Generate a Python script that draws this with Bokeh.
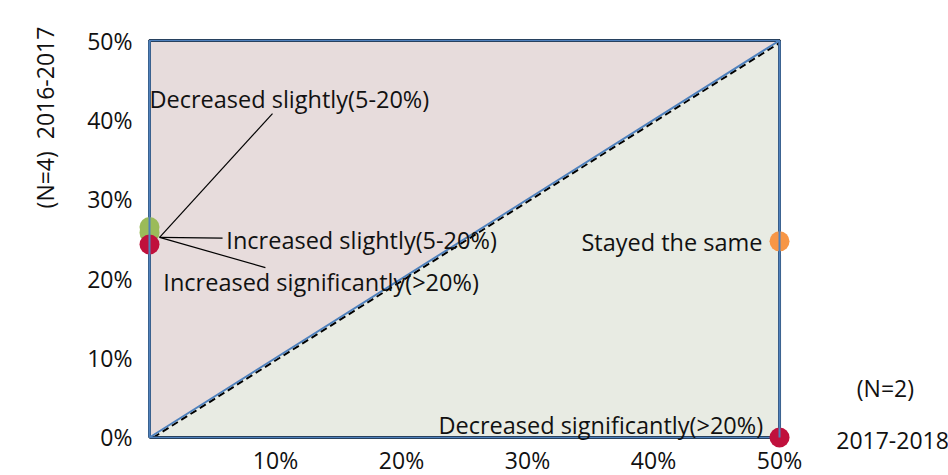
from bokeh.plotting import figure
from bokeh.models import ColumnDataSource, Label, FixedTicker, CustomJSTickFormatter
from bokeh.embed import file_html
from bokeh.resources import INLINE

# ---- data ----
categories = ["Decreased slightly(5-20%)", "Increased slightly(5-20%)",
              "Increased significantly(>20%)", "Stayed the same",
              "Decreased significantly(>20%)"]
x_2017_2018 = [0.0, 0.0, 0.0, 0.5, 0.5]          # (N=2)
y_2016_2017 = [0.265, 0.258, 0.243, 0.247, 0.0]  # (N=4)
point_colors = ["#9BBB59", "#9BBB59", "#C0103C", "#F79646", "#C0103C"]
x_ticks = [0.1, 0.2, 0.3, 0.4, 0.5]
y_ticks = [0.0, 0.1, 0.2, 0.3, 0.4, 0.5]
x_title = "2017-2018"
x_note = "(N=2)"
y_title = "(N=4)  2016-2017"
lo, hi = 0.0, 0.5

FONT = "Open Sans"
FS_LAB = "23.5px"
FS_AX = "23px"
INK = "#111111"

p = figure(width=948, height=475, output_backend="svg", toolbar_location=None,
           x_range=(-0.11825, 0.6341), y_range=(-0.0479, 0.5504),
           min_border=0, min_border_left=0, min_border_right=0,
           min_border_top=0, min_border_bottom=0)
p.outline_line_color = None
p.grid.visible = False
p.background_fill_color = "white"
p.border_fill_color = "white"

# regions
p.patch([lo, lo, hi], [lo, hi, hi], fill_color="#E7DCDC", line_color=None)
p.patch([lo, hi, hi], [lo, lo, hi], fill_color="#E8EBE3", line_color=None)

# black frame + dashed diagonal (dashed line sits just below the blue one)
p.line([lo, hi, hi, lo, lo], [lo, lo, hi, hi, lo], line_color="black", line_width=3)
shift = 0.003
p.line([lo + shift, hi], [lo, hi - shift], line_color="black", line_width=2,
       line_dash="7 4")
# blue outlines
p.line([lo, lo, hi, lo], [lo, hi, hi, lo], line_color="#4F81BD", line_width=2)
p.line([lo, hi, hi], [lo, lo, hi], line_color="#4F81BD", line_width=2)

# leader lines from the clustered points on the left
px, py = x_2017_2018[1], y_2016_2017[1]
leader_ends = [(0.0976, 0.408), (0.058, 0.251), (0.092, 0.214)]
p.segment(x0=[px + 0.008] * 3, y0=[py - 0.006] * 3,
          x1=[e[0] for e in leader_ends], y1=[e[1] for e in leader_ends],
          line_color="black", line_width=1.2)

src = ColumnDataSource(dict(x=x_2017_2018, y=y_2016_2017, c=point_colors, name=categories))
p.scatter("x", "y", source=src, size=20, fill_color="c", line_color=None)
# blue edge lines drawn over the points
p.line([lo, lo], [lo, hi], line_color="#4F81BD", line_width=2)
p.line([hi, hi], [lo, hi], line_color="#4F81BD", line_width=2)

# point labels
label_pos = [(0.0, 0.426, "left"), (0.061, 0.249, "left"), (0.011, 0.196, "left"),
             (0.4865, 0.2456, "right"), (0.487, 0.016, "right")]
for name, (lx, ly, al) in zip(categories, label_pos):
    p.add_layout(Label(x=lx, y=ly, text=name, text_align=al, text_baseline="middle",
                       text_font=FONT, text_font_size=FS_LAB, text_color=INK))

# axes drawn at the data origin
p.xaxis.ticker = FixedTicker(ticks=x_ticks)
p.yaxis.ticker = FixedTicker(ticks=y_ticks)
fmt = CustomJSTickFormatter(code="return Math.round(tick*100) + '%';")
p.xaxis.formatter = fmt
p.yaxis.formatter = fmt
p.xaxis.fixed_location = lo
p.yaxis.fixed_location = lo
for ax in (p.xaxis[0], p.yaxis[0]):
    ax.axis_line_color = None
    ax.major_tick_line_color = None
    ax.minor_tick_line_color = None
    ax.major_tick_out = 0
    ax.major_tick_in = 0
    ax.major_label_text_font = FONT
    ax.major_label_text_font_size = FS_AX
    ax.major_label_text_color = INK
p.xaxis.major_label_standoff = 7
p.yaxis.major_label_standoff = 17

# axis titles
p.add_layout(Label(x=-0.0833, y=0.403, text=y_title.replace(" ", "\u00a0"),
                   angle=1.5708, text_align="center", text_baseline="middle",
                   text_font=FONT, text_font_size=FS_AX, text_color=INK))
p.add_layout(Label(x=0.584, y=0.0617, text=x_note, text_align="center",
                   text_baseline="middle", text_font=FONT, text_font_size=FS_AX,
                   text_color=INK))
p.add_layout(Label(x=0.545, y=-0.004, text=x_title, text_align="left",
                   text_baseline="middle", text_font=FONT, text_font_size=FS_AX,
                   text_color=INK))

open("out.html", "w").write(file_html(p, INLINE))
